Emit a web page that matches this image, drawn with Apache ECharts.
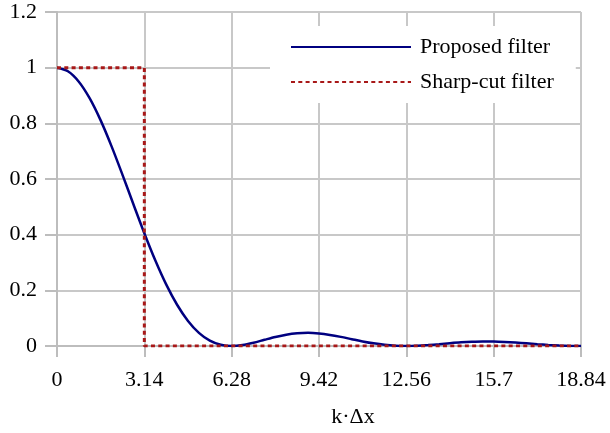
<!DOCTYPE html>
<html>
<head>
<meta charset="utf-8">
<script src="https://cdn.jsdelivr.net/npm/echarts@6/dist/echarts.min.js"></script>
<style>html,body{margin:0;padding:0;background:#fff}#c{width:610px;height:433px}</style>
</head>
<body>
<div id="c"></div>
<script>
// x positions (k·Δx) and read values
var proposedX = [0, 0.3925, 0.785, 1.1775, 1.57, 1.9625, 2.355, 2.7475, 3.14, 3.5325, 3.925, 4.3175, 4.71, 5.1025, 5.495, 5.8875, 6.28, 6.6725, 7.065, 7.4575, 7.85, 8.2425, 8.635, 9.0275, 9.42, 9.8125, 10.205, 10.5975, 10.99, 11.3825, 11.775, 12.1675, 12.56, 12.9525, 13.345, 13.7375, 14.13, 14.5225, 14.915, 15.3075, 15.7, 16.0925, 16.485, 16.8775, 17.27, 17.6625, 18.055, 18.4475, 18.84];
var proposedY = [1, 0.9872, 0.9497, 0.8896, 0.8106, 0.7173, 0.6150, 0.5092, 0.4053, 0.3080, 0.2214, 0.1482, 0.0901, 0.0474, 0.0194, 0.0044, 0, 0.0034, 0.0117, 0.0222, 0.0324, 0.0407, 0.0457, 0.0472, 0.0450, 0.0399, 0.0328, 0.0246, 0.0165, 0.0095, 0.0042, 0.0010, 0, 0.0009, 0.0033, 0.0065, 0.0100, 0.0131, 0.0153, 0.0164, 0.0162, 0.0148, 0.0126, 0.0097, 0.0067, 0.0040, 0.0018, 0.0004, 0];
var sharpX = [0, 3.14, 3.14, 18.84];
var sharpY = [1, 1, 0, 0];
var xTickLabels = ['0', '3.14', '6.28', '9.42', '12.56', '15.7', '18.84'];
var yTickLabels = ['0', '0.2', '0.4', '0.6', '0.8', '1', '1.2'];
var seriesNames = ['Proposed filter', 'Sharp-cut filter'];
var xName = 'k·Δx';

function zip(a, b) { return a.map(function (v, i) { return [v, b[i]]; }); }

var font = 'Liberation Serif';
var gridColor = '#c8c8c8';
var chart = echarts.init(document.getElementById('c'));
chart.setOption({
  animation: false,
  backgroundColor: '#fff',
  grid: { left: 57, right: 29, top: 12, bottom: 87, containLabel: false },
  legend: {
    orient: 'vertical',
    left: 270, top: 26,
    padding: [10, 22, 10, 20],
    backgroundColor: '#fff',
    itemWidth: 120, itemHeight: 22, itemGap: 13,
    itemStyle: { opacity: 0 },
    data: seriesNames,
    textStyle: { fontFamily: font, fontSize: 22, color: '#000', padding: [0, 0, 0, 4] }
  },
  xAxis: {
    type: 'value', min: 0, max: 18.84, interval: 3.14,
    name: xName, nameLocation: 'middle', nameGap: 60,
    nameTextStyle: { fontFamily: font, fontSize: 22, color: '#000', padding: [0, 0, 0, 68] },
    axisLine: { show: true, lineStyle: { color: '#bdbdbd', width: 2 } },
    axisTick: { show: true, inside: false, length: 11, lineStyle: { color: '#bdbdbd', width: 2 } },
    splitLine: { show: true, lineStyle: { color: gridColor, width: 2 } },
    axisLabel: {
      margin: 23, fontFamily: font, fontSize: 22, color: '#000',
      formatter: function (v) { return xTickLabels[Math.round(v / 3.14)]; }
    }
  },
  yAxis: {
    type: 'value', min: 0, max: 1.2, interval: 0.2,
    axisLine: { show: true, lineStyle: { color: '#bdbdbd', width: 2 } },
    axisTick: { show: true, inside: false, length: 12, lineStyle: { color: '#bdbdbd', width: 2 } },
    splitLine: { show: true, lineStyle: { color: gridColor, width: 2 } },
    axisLabel: {
      margin: 20, fontFamily: font, fontSize: 22, color: '#000',
      formatter: function (v) { return yTickLabels[Math.round(v / 0.2)]; }
    }
  },
  series: [
    {
      name: seriesNames[0], type: 'line', data: zip(proposedX, proposedY),
      smooth: 0.3, symbol: 'none', z: 2,
      lineStyle: { color: '#000080', width: 2.5 }, itemStyle: { color: '#000080' }
    },
    {
      name: seriesNames[1], type: 'line', data: zip(sharpX, sharpY),
      symbol: 'none', z: 3,
      lineStyle: { color: '#a81818', width: 3, type: [4, 3.3] }, itemStyle: { color: '#a81818' }
    }
  ]
});
</script>
</body>
</html>
